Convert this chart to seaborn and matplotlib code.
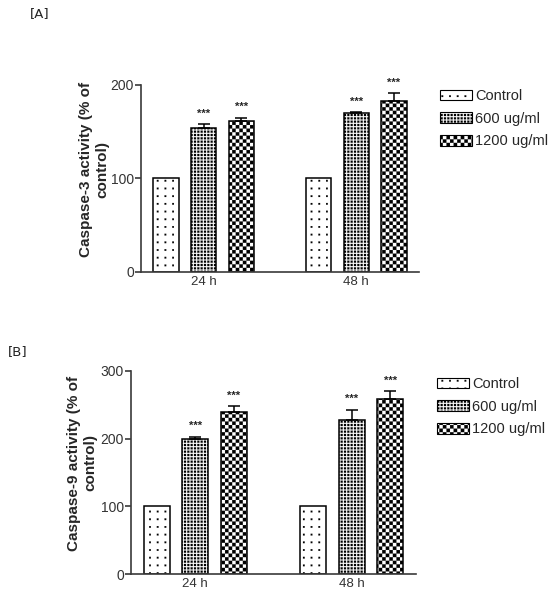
import numpy as np
import pandas as pd
import matplotlib
matplotlib.use("Agg")
import matplotlib.pyplot as plt
import matplotlib.hatch as mhatch
import matplotlib.patches as mpatches
from matplotlib.path import Path
import seaborn as sns

# ---------------- data ----------------
times = ["24 h", "48 h"]
groups = ["Control", "600 ug/ml", "1200 ug/ml"]

casp3_mean = {"Control": [100, 100], "600 ug/ml": [154, 170], "1200 ug/ml": [162, 183]}
casp3_err = {"Control": [0, 0], "600 ug/ml": [4, 1], "1200 ug/ml": [3, 8]}
casp9_mean = {"Control": [100, 100], "600 ug/ml": [200, 227], "1200 ug/ml": [239, 258]}
casp9_err = {"Control": [0, 0], "600 ug/ml": [3, 16], "1200 ug/ml": [9, 12]}
stars = {"Control": ["", ""], "600 ug/ml": ["***", "***"], "1200 ug/ml": ["***", "***"]}

ylabel_a = "Caspase-3 activity (% of\ncontrol)"
ylabel_b = "Caspase-9 activity (% of\ncontrol)"
yticks_a = [0, 100, 200]
yticks_b = [0, 100, 200, 300]


# ---------------- custom square hatch patterns ----------------
class GridSquares(mhatch.HatchPatternBase):
    # hatch string -> (cells per hatch unit, square fraction of cell, checkerboard)
    SPECS = {"o": (13, 0.22, False), ".": (30, 0.62, False), "x": (28, 0.97, True)}

    def __init__(self, hatch, density):
        spec = self.SPECS.get(hatch)
        if spec is None:
            self.num_vertices = 0
            return
        n, frac, checker = spec
        self.n, self.frac = n, frac
        self.cells = [(i, j) for i in range(n) for j in range(n)
                      if (not checker or (i + j) % 2 == 0)]
        self.num_vertices = len(self.cells) * 5

    def set_vertices_and_codes(self, vertices, codes):
        c = 1.0 / self.n
        s = c * self.frac / 2
        sq = np.array([[-s, -s], [s, -s], [s, s], [-s, s], [-s, -s]])
        code = [Path.MOVETO, Path.LINETO, Path.LINETO, Path.LINETO, Path.CLOSEPOLY]
        k = 0
        for i, j in self.cells:
            cx, cy = (i + 0.5) * c, (j + 0.5) * c
            vertices[k:k + 5] = sq + [cx, cy]
            codes[k:k + 5] = code
            k += 5


mhatch._hatch_types[:] = [GridSquares]
hatches = {"Control": "o", "600 ug/ml": ".", "1200 ug/ml": "x"}

# ---------------- style ----------------
sns.set_style("ticks")
plt.rcParams["font.family"] = ["Liberation Sans", "DejaVu Sans"]
plt.rcParams["hatch.linewidth"] = 0.1
axis_grey = "#3a3a3a"

fig = plt.figure(figsize=(5.5, 5.93), dpi=100)


def panel(rect, means, errs, ylabel, yticks, label_xy, legend_anchor):
    ax = fig.add_axes(rect)
    rows = []
    for g in groups:
        for t, v in zip(times, means[g]):
            rows.append({"time": t, "group": g, "value": v})
    df = pd.DataFrame(rows)
    sns.barplot(data=df, x="time", y="value", hue="group", order=times,
                hue_order=groups, palette=["white"] * 3, edgecolor="black",
                linewidth=1.1, width=0.74, gap=0.33, errorbar=None,
                legend=False, ax=ax, saturation=1)
    for g, cont in zip(groups, ax.containers):
        xs, tops = [], []
        for bar in cont:
            bar.set_hatch(hatches[g])
            xs.append(bar.get_x() + bar.get_width() / 2)
            tops.append(bar.get_height())
        e = np.array(errs[g])
        if e.any():
            ax.errorbar(xs, tops, yerr=[np.zeros_like(e), e], fmt="none",
                        ecolor="black", elinewidth=1.1, capsize=4.5,
                        capthick=1.1, zorder=3)
        for x, top, ee, s in zip(xs, tops, e, stars[g]):
            if s:
                ax.annotate(s, (x, top + ee), xytext=(0, 4),
                            textcoords="offset points", ha="center",
                            va="bottom", fontsize=8, fontweight="bold")
    ax.set_xlim(-0.41, 1.41)
    ax.set_ylim(0, yticks[-1])
    ax.set_yticks(yticks)
    ax.set_xlabel("")
    ax.set_ylabel(ylabel, fontsize=11, fontweight="bold", linespacing=1.2)
    ax.yaxis.set_label_coords(*label_xy)
    sns.despine(ax=ax)
    for sp in ("left", "bottom"):
        ax.spines[sp].set_color(axis_grey)
        ax.spines[sp].set_linewidth(1.2)
    ax.tick_params(axis="y", length=4, width=1.2, color=axis_grey,
                   labelsize=10, labelcolor="#333333", pad=1)
    ax.tick_params(axis="x", length=0, labelsize=9.5, labelcolor="#333333", pad=3)
    handles = [mpatches.Patch(facecolor="white", edgecolor="black",
                              linewidth=0.8, hatch=hatches[g], label=g)
               for g in groups]
    fig.legend(handles=handles, loc="upper left",
               bbox_to_anchor=legend_anchor, bbox_transform=fig.transFigure,
               frameon=False, fontsize=10.5, handlelength=2.2,
               handleheight=0.75, handletextpad=0.2, labelspacing=0.6,
               borderpad=0, borderaxespad=0)
    return ax


panel([141 / 550, 1 - 272 / 593, 278 / 550, 187 / 593], casp3_mean, casp3_err,
      ylabel_a, yticks_a, (-0.115, 0.55), (440 / 550, 1 - 89 / 593))
panel([131 / 550, 1 - 574 / 593, 285 / 550, 203 / 593], casp9_mean, casp9_err,
      ylabel_b, yticks_b, (-0.119, 0.547), (437 / 550, 1 - 377 / 593))

fig.text(40 / 550, 1 - 14 / 593, "[A]", ha="center", va="center",
         fontsize=9.5, family="DejaVu Sans", color="#222222")
fig.text(18 / 550, 1 - 352 / 593, "[B]", ha="center", va="center",
         fontsize=9.5, family="DejaVu Sans", color="#222222")

fig.savefig("out.png", dpi=100)
